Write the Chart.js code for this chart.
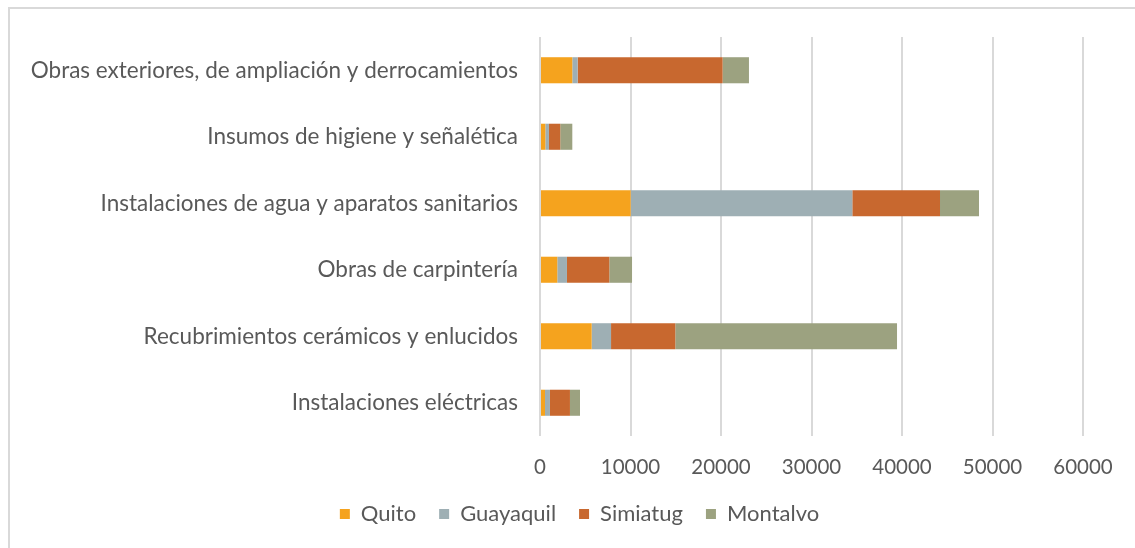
<!DOCTYPE html>
<html>
<head>
<meta charset="utf-8">
<script src="https://cdn.jsdelivr.net/npm/chart.js@4"></script>
<style>
  html, body { margin: 0; padding: 0; background: #fff; overflow: hidden; }
  #frame {
    position: absolute; left: 8px; top: 7px; width: 1200px; height: 600px;
    border-top: 2px solid #d9d9d9; border-left: 2px solid #d9d9d9;
  }
  #wrap { position: absolute; left: 0; top: 0; width: 1135px; height: 548px; }
</style>
</head>
<body>
<div id="frame"></div>
<div id="wrap"><canvas id="chart" width="1135" height="548"></canvas></div>
<script>
// categories, top to bottom
const categories = [
    'Obras exteriores, de ampliación y derrocamientos',
    'Insumos de higiene y señalética',
    'Instalaciones de agua y aparatos sanitarios',
    'Obras de carpintería',
    'Recubrimientos cerámicos y enlucidos',
    'Instalaciones eléctricas'
];

// series values (same order as categories)
const quito     = [3570, 590, 10020, 1910, 5710, 550];
const guayaquil = [590, 400, 24490, 1070, 2140, 550];
const simiatug  = [16020, 1250, 9690, 4680, 7100, 2210];
const montalvo  = [2910, 1330, 4310, 2510, 24500, 1110];

const xTicks = [0, 10000, 20000, 30000, 40000, 50000, 60000];

const textColor = '#595959';
const fontFamily = "Lato, 'Open Sans', sans-serif";

Chart.defaults.color = textColor;
Chart.defaults.font.family = fontFamily;
Chart.defaults.font.size = 19;

function ds(label, data, color) {
    return {
        label: label,
        data: data,
        backgroundColor: color,
        borderWidth: 0,
        barPercentage: 0.4,
        categoryPercentage: 0.98
    };
}

// the legend in the original is centred on the whole frame, not on the plot
const legendShift = {
    id: 'legendShift',
    afterLayout(chart) {
        if (chart.legend) {
            chart.legend.left += 38;
            chart.legend.right += 38;
        }
    }
};

new Chart(document.getElementById('chart').getContext('2d'), {
    type: 'bar',
    data: {
        labels: categories,
        datasets: [
            ds('Quito', quito, '#F5A31E'),
            ds('Guayaquil', guayaquil, '#9EAFB4'),
            ds('Simiatug', simiatug, '#C8682F'),
            ds('Montalvo', montalvo, '#9CA280')
        ]
    },
    plugins: [legendShift],
    options: {
        indexAxis: 'y',
        responsive: false,
        animation: false,
        layout: { padding: { top: 37, right: 52, left: 0, bottom: 13 } },
        plugins: {
            legend: {
                position: 'bottom',
                labels: {
                    boxWidth: 10,
                    boxHeight: 10,
                    padding: 23,
                    color: textColor,
                    font: { size: 22 }
                }
            },
            tooltip: { enabled: false }
        },
        scales: {
            x: {
                stacked: true,
                min: 0,
                max: 60000,
                afterBuildTicks: (scale) => { scale.ticks = xTicks.map(v => ({ value: v })); },
                ticks: {
                    padding: 19,
                    color: textColor,
                    font: { size: 20.5 },
                    callback: (v) => String(v)
                },
                grid: { color: '#d9d9d9', lineWidth: 2, drawTicks: false },
                border: { display: false },
                afterFit: (scale) => { scale.height = 44; }
            },
            y: {
                stacked: true,
                ticks: { padding: 14, color: textColor, font: { size: 22.5 } },
                grid: { display: false },
                border: { display: false },
                afterFit: (scale) => { scale.width = 540; }
            }
        }
    }
});
</script>
</body>
</html>
